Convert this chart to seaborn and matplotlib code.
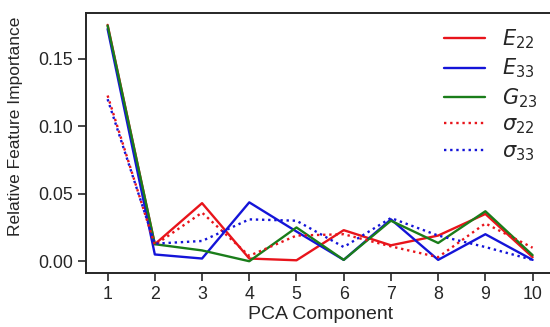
import matplotlib
matplotlib.use("Agg")
import matplotlib.pyplot as plt
import seaborn as sns
import pandas as pd

components = [1, 2, 3, 4, 5, 6, 7, 8, 9, 10]
E22 = [0.175, 0.0126, 0.043, 0.002, 0.0007, 0.023, 0.0118, 0.019, 0.035, 0.003]
E33 = [0.172, 0.005, 0.002, 0.0436, 0.022, 0.001, 0.031, 0.001, 0.020, 0.001]
G23 = [0.1745, 0.0126, 0.008, 0.0, 0.025, 0.001, 0.030, 0.0135, 0.037, 0.0045]
S22 = [0.1227, 0.012, 0.036, 0.004, 0.019, 0.020, 0.011, 0.003, 0.028, 0.010]
S33 = [0.120, 0.013, 0.015, 0.031, 0.030, 0.0105, 0.032, 0.019, 0.0105, 0.001]

labels = [r"$E_{22}$", r"$E_{33}$", r"$G_{23}$", r"$\sigma_{22}$", r"$\sigma_{33}$"]
series = [E22, E33, G23, S22, S33]

rows = []
for lab, vals in zip(labels, series):
    for c, v in zip(components, vals):
        rows.append({"PCA Component": c, "value": v, "feature": lab})
df = pd.DataFrame(rows)

sns.set_theme(style="ticks")
plt.rcParams['font.family'] = ['Liberation Sans', 'DejaVu Sans']
plt.rcParams['mathtext.fontset'] = 'dejavusans'

fig = plt.figure(figsize=(5.5, 3.27), dpi=100)
ax = fig.add_axes([0.157, 0.165, 0.85, 0.795])

palette = {labels[0]: "#e8141b", labels[1]: "#1414d8", labels[2]: "#1a7d1a",
           labels[3]: "#e8141b", labels[4]: "#1414d8"}
dashes = {labels[0]: "", labels[1]: "", labels[2]: "",
          labels[3]: (1, 1.6), labels[4]: (1, 1.6)}

sns.lineplot(data=df, x="PCA Component", y="value", hue="feature", style="feature",
             palette=palette, dashes=dashes, hue_order=labels, style_order=labels,
             linewidth=1.7, ax=ax)

ax.set_xticks(components)
ax.set_yticks([0.0, 0.05, 0.10, 0.15])
ax.set_yticklabels(["0.00", "0.05", "0.10", "0.15"])
ax.set_xlabel("PCA Component", fontsize=14, labelpad=2)
ax.set_ylabel("Relative Feature Importance", fontsize=12.5)
ax.yaxis.set_label_coords(-0.135, 0.565)
ax.tick_params(labelsize=12.8, length=6, width=1.2, color="#262626")
for s in ax.spines.values():
    s.set_linewidth(1.4)
    s.set_color("#262626")

leg = ax.legend(frameon=False, fontsize=15, loc="upper right",
                bbox_to_anchor=(1.005, 1.017), handlelength=2.0, labelspacing=0.28,
                handletextpad=0.8)

fig.savefig("out.png", dpi=100)
